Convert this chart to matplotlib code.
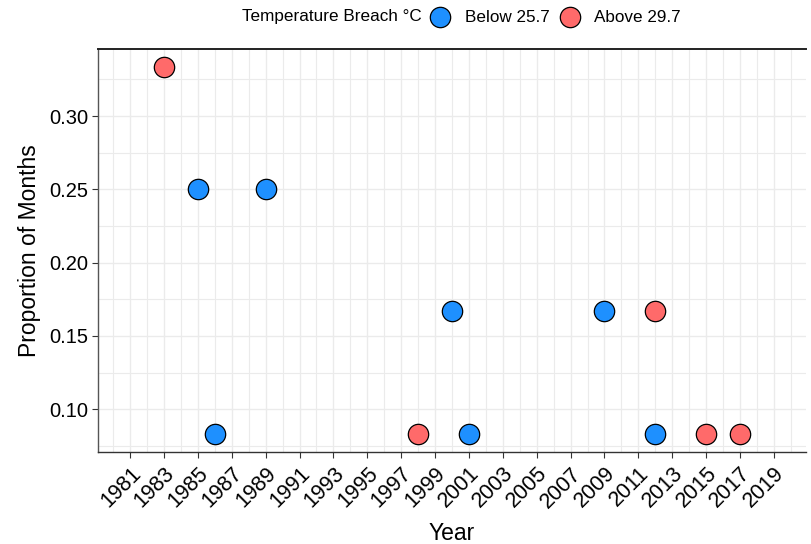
import matplotlib
matplotlib.use("Agg")
import matplotlib.pyplot as plt
from matplotlib.ticker import MultipleLocator

plt.rcParams['font.family'] = ['Liberation Sans', 'DejaVu Sans']

years_below = [1985, 1986, 1989, 2000, 2001, 2009, 2012]
prop_below = [0.25, 0.0833, 0.25, 0.1667, 0.0833, 0.1667, 0.0833]
years_above = [1983, 1998, 2012, 2015, 2017]
prop_above = [0.3333, 0.0833, 0.1667, 0.0833, 0.0833]
xticks = list(range(1981, 2020, 2))
yticks = [0.10, 0.15, 0.20, 0.25, 0.30]
legend_title = 'Temperature Breach °C'
legend_labels = ['Below 25.7', 'Above 29.7']

c_below = '#1E90FF'
c_above = '#FF6A6A'

fig = plt.figure(figsize=(8.11, 5.44), dpi=100)
ax = fig.add_axes([98/811, 1-452/544, (806-98)/811, (452-49)/544])

ax.scatter(years_below, prop_below, s=215, c=c_below, edgecolors='black', linewidths=0.9, zorder=3)
ax.scatter(years_above, prop_above, s=215, c=c_above, edgecolors='black', linewidths=0.9, zorder=3)

ax.set_xlim(1979.1, 2020.9)
ax.set_ylim(0.0708, 0.3458)
ax.set_xticks(xticks)
ax.set_xticklabels([str(y) for y in xticks], rotation=45, ha='right', rotation_mode='anchor', fontsize=15.5)
ax.set_yticks(yticks)
ax.set_yticklabels([f"{v:.2f}" for v in yticks], fontsize=14.5)
ax.xaxis.set_minor_locator(MultipleLocator(1))
ax.yaxis.set_minor_locator(MultipleLocator(0.025))
ax.grid(which='major', color='#EBEBEB', linewidth=1.0)
ax.grid(which='minor', color='#EBEBEB', linewidth=0.8)
ax.set_axisbelow(True)
ax.tick_params(which='minor', length=0)
ax.tick_params(which='major', length=4, width=0.8, color='#333333', labelcolor='black', pad=3)
ax.tick_params(axis='x', which='major', pad=4)

ax.spines['right'].set_visible(False)
ax.spines['top'].set_color('#222222')
ax.spines['top'].set_linewidth(1.4)
ax.spines['left'].set_color('#555555')
ax.spines['bottom'].set_color('#333333')
ax.spines['left'].set_linewidth(1.0)
ax.spines['bottom'].set_linewidth(1.0)

ax.set_xlabel('Year', fontsize=16.5, labelpad=7)
ax.set_ylabel('Proportion of Months', fontsize=16.5, labelpad=6)

# legend drawn in a figure-wide overlay (pixel coordinates)
lg = fig.add_axes([0, 0, 1, 1], facecolor='none')
lg.set_xlim(0, 811)
lg.set_ylim(544, 0)
lg.axis('off')
lg.text(242, 17, legend_title, fontsize=12.3, va='center', ha='left')
lg.scatter([440], [17], s=215, c=c_below, edgecolors='black', linewidths=0.9)
lg.text(465, 17, legend_labels[0], fontsize=12.3, va='center', ha='left')
lg.scatter([570], [17], s=215, c=c_above, edgecolors='black', linewidths=0.9)
lg.text(594, 17, legend_labels[1], fontsize=12.3, va='center', ha='left')

fig.savefig('out.png', dpi=100)
